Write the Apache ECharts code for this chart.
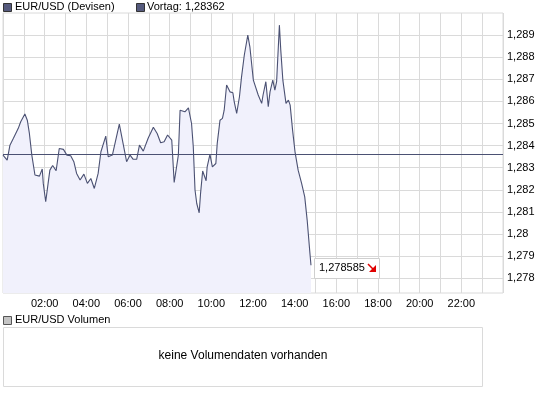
<!DOCTYPE html>
<html><head><meta charset="utf-8">
<script src="https://cdn.jsdelivr.net/npm/echarts@6/dist/echarts.min.js"></script>
<style>html,body{margin:0;padding:0;background:#fff}#c{width:545px;height:395px}</style>
</head><body><div id="c"></div>
<script>
// minutes since 00:00
const times = [0,12,20,30,44,51,63,70,76,83,92,105,113,116,123,130,135,143,153,162,174,184,195,204,212,222,233,243,253,263,274,282,296,303,315,335,356,366,375,385,393,404,418,433,444,454,464,474,486,493,505,
  510,524,534,543,548,553,558,565,569,575,585,588,596,603,613,617,625,632,637,644,654,662,666,673,681,687,695,705,711,721,735,745,749,757,764,769,777,783,788,796,800,806,815,822,827,834,841,850,860,869,876,884,887];
const prices = [1.28357,1.28334,1.28402,1.28433,1.28478,1.28508,1.28543,1.28515,1.28455,1.28357,1.28267,1.28262,1.28294,1.28229,1.28146,1.2823,1.28289,1.2831,1.28286,1.28387,1.28383,1.28357,1.28354,1.28327,1.28274,1.28244,1.28271,1.28229,1.28251,1.28206,1.28274,1.28372,1.28443,1.2835,1.28357,1.28497,1.28327,1.28357,1.28338,1.28338,1.28402,1.28375,1.28433,1.28483,1.28455,1.28413,1.28417,1.28448,1.28425,1.28233,1.28357,
  1.2856,1.28553,1.28571,1.285,1.28395,1.28199,1.28138,1.28096,1.28184,1.28285,1.28241,1.28304,1.2836,1.28304,1.28319,1.2841,1.28515,1.28523,1.2856,1.28674,1.28643,1.28639,1.28598,1.28546,1.28621,1.28711,1.2881,1.289,1.28847,1.28696,1.28629,1.28591,1.28629,1.28689,1.28576,1.28643,1.28696,1.28651,1.28689,1.28945,1.28832,1.28696,1.28591,1.28606,1.28583,1.2847,1.28372,1.28289,1.28229,1.28168,1.28063,1.27912,1.278585];
const prevClose = 1.28362;
const lastPrice = 1.278585;
const yTicks = [1.278,1.279,1.28,1.281,1.282,1.283,1.284,1.285,1.286,1.287,1.288,1.289];
const xLabelHours = [2,4,6,8,10,12,14,16,18,20,22];

const FONT = '"Liberation Sans", Arial, sans-serif';
const LINE = '#4b5173';
const GRIDC = '#dadada';
const fmtPrice = v => String(parseFloat(v.toFixed(6))).replace('.', ',');

const chart = echarts.init(document.getElementById('c'), null, {renderer: 'canvas'});
const data = times.map((t, i) => [t, prices[i]]);

chart.setOption({
  animation: false,
  backgroundColor: '#fff',
  textStyle: {fontFamily: FONT},
  grid: {left: 3, top: 13, width: 500, height: 280, show: true, borderColor: GRIDC, borderWidth: 1, containLabel: false, outerBoundsMode: 'none'},
  xAxis: {
    type: 'value', min: 0, max: 1440, interval: 60,
    axisLine: {show: false}, axisTick: {show: false},
    splitLine: {show: true, lineStyle: {color: GRIDC, width: 1}},
    axisLabel: {
      margin: 5, color: '#000', fontSize: 11, fontFamily: FONT,
      formatter: v => { const h = v / 60; return xLabelHours.includes(h) ? (h < 10 ? '0' : '') + h + ':00' : ''; }
    }
  },
  yAxis: {
    type: 'value', position: 'right', min: 1.27733, max: 1.290,
    axisLine: {show: false},
    axisTick: {show: false, customValues: yTicks},
    splitLine: {show: true, lineStyle: {color: GRIDC, width: 1}},
    axisLabel: {customValues: yTicks, margin: 4, color: '#000', fontSize: 11, fontFamily: FONT, formatter: v => fmtPrice(v)}
  },
  series: [{
    type: 'line', data: data, symbol: 'none', smooth: false,
    lineStyle: {color: LINE, width: 1.1},
    areaStyle: {color: '#f1f1fc', opacity: 1},
    markLine: {
      silent: true, symbol: 'none', precision: 6, label: {show: false},
      lineStyle: {color: LINE, width: 1, type: 'solid'},
      data: [{yAxis: prevClose}]
    }
  }]
});

const p = chart.convertToPixel({gridIndex: 0}, [times[times.length - 1], lastPrice]);
const bx = Math.round(p[0]) + 3, by = Math.round(p[1]) - 7;
chart.setOption({
  graphic: [
    {type: 'rect', left: 3, top: 3, shape: {width: 8, height: 8}, style: {fill: '#555a7d', stroke: '#333', lineWidth: 1}},
    {type: 'text', left: 15, top: 1, style: {text: 'EUR/USD (Devisen)', font: '11px ' + FONT, fill: '#000'}},
    {type: 'rect', left: 136, top: 3, shape: {width: 8, height: 8}, style: {fill: '#555a7d', stroke: '#333', lineWidth: 1}},
    {type: 'text', left: 147, top: 1, style: {text: 'Vortag: ' + fmtPrice(prevClose), font: '11px ' + FONT, fill: '#000'}},
    {type: 'text', left: 10, top: 280, style: {text: '1 Tick = 10 Min.', font: '11px ' + FONT, fill: '#9a9a9a'}},
    {type: 'rect', shape: {x: bx + 0.5, y: by + 0.5, width: 65, height: 20}, style: {fill: '#fff', stroke: '#cfcfcf', lineWidth: 1}, z: 100},
    {type: 'text', x: bx + 5, y: by + 4, style: {text: fmtPrice(lastPrice), font: '11px ' + FONT, fill: '#000'}, z: 101},
    {type: 'line', shape: {x1: bx + 54, y1: by + 6, x2: bx + 60, y2: by + 12}, style: {stroke: '#e00000', lineWidth: 1.5}, z: 101},
    {type: 'polygon', shape: {points: [[bx + 62, by + 14], [bx + 62, by + 7], [bx + 55, by + 14]]}, style: {fill: '#e00000'}, z: 101},
    {type: 'rect', left: 3, top: 316, shape: {width: 8, height: 8}, style: {fill: '#c4c4c4', stroke: '#555', lineWidth: 1}},
    {type: 'text', left: 15, top: 314, style: {text: 'EUR/USD Volumen', font: '11px ' + FONT, fill: '#000'}},
    {type: 'rect', shape: {x: 3.5, y: 327.5, width: 479, height: 59}, style: {fill: '#fff', stroke: GRIDC, lineWidth: 1}},
    {type: 'text', x: 243, y: 356, style: {text: 'keine Volumendaten vorhanden', font: '12px ' + FONT, fill: '#000', align: 'center', verticalAlign: 'middle'}}
  ]
});
</script></body></html>
